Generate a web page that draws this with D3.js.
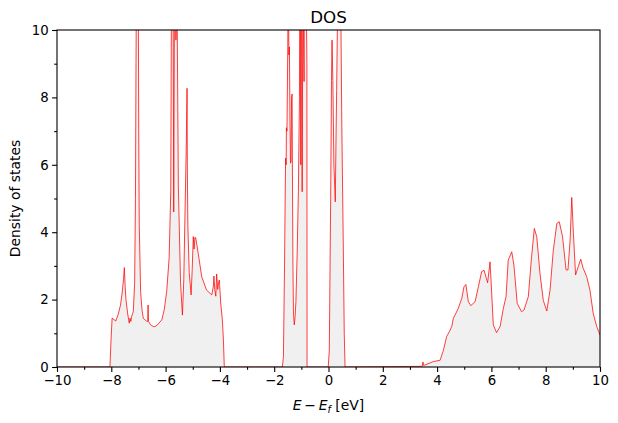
<!DOCTYPE html>
<html><head><meta charset="utf-8">
<script src="https://cdn.jsdelivr.net/npm/d3@7"></script>
<style>body{margin:0;background:#fff}text{font-family:"DejaVu Sans",sans-serif}</style>
</head><body><svg id="c" width="618" height="423"></svg>
<script>
const valenceE=[-10,-8.05,-8.01,-7.97,-7.93,-7.88,-7.84,-7.75,-7.66,-7.6,-7.55,-7.52,-7.49,-7.46,-7.40,-7.34,-7.31,-7.28,-7.25,-7.19,-7.14,-7.11,-7.09,-7.05,-7.01,-6.99,-6.97,-6.92,-6.87,-6.82,-6.70,-6.66,-6.645,-6.63,-6.55,-6.45,-6.39,-6.30,-6.14,-6.05,-5.96,-5.87,-5.81,-5.78,-5.74,-5.70,-5.67,-5.64,-5.62,-5.58,-5.53,-5.45,-5.38,-5.33,-5.29,-5.24,-5.21,-5.20,-5.18,-5.13,-5.06,-5.02,-4.98,-4.95,-4.92,-4.89,-4.80,-4.67,-4.49,-4.30,-4.24,-4.22,-4.19,-4.15,-4.12,-4.08,-4.05,-4.02,-3.97,-3.91,-3.87,-3.84,-3.83];
const valenceD=[0,0,0.8,1.45,1.42,1.4,1.36,1.55,1.84,2.2,2.6,2.95,2.4,2.0,1.6,1.3,1.45,1.35,1.5,1.64,2.5,5,9,15,12,7,4.2,2.24,1.7,1.44,1.36,1.35,1.84,1.35,1.25,1.2,1.2,1.25,1.4,1.7,2.24,3.23,5.2,12,15,4.6,12,11,9.7,11,5.35,2.5,1.54,2.6,4.36,6.5,8.27,6,4.2,2.8,2.14,2.9,3.87,3.5,3.85,3.83,3.38,2.68,2.28,2.14,2.4,2.7,2.3,2.1,2.76,2.3,2.5,2.58,1.9,1.4,0.8,0.05,0];
const semicoreE=[-1.70,-1.66,-1.62,-1.58,-1.56,-1.55,-1.53,-1.50,-1.48,-1.46,-1.44,-1.42,-1.40,-1.38,-1.36,-1.34,-1.33,-1.31,-1.29,-1.26,-1.23,-1.20,-1.15,-1.11,-1.07,-1.05,-1.03,-1.02,-1.01,-0.99,-0.97,-0.96,-0.94,-0.92,-0.90,-0.89,-0.88,-0.85,-0.82,-0.795,-0.79];
const semicoreD=[0,0.3,3,6.2,6.0,7.1,7.0,9.5,12,9.26,9.5,7.5,6.05,6.1,8.0,8.1,6,3,1.6,1.25,1.5,1.94,3.5,5.2,8,13,11,6.0,12,11,5.2,7.6,12,10,8.47,12,14,13,11,9,0];
const fermiE=[-0.01,0.03,0.08,0.11,0.13,0.16,0.20,0.25,0.28,0.30,0.34,0.40,0.45,0.49,0.55,0.58,0.61];
const fermiD=[0,0.5,5,8.5,9.7,8.5,6,4.9,7,8.2,11,13,11,7.2,3.2,1.0,0];
const conductionE=[3.45,3.48,3.50,3.55,3.86,4.11,4.23,4.35,4.45,4.54,4.60,4.66,4.78,4.91,4.99,5.06,5.15,5.24,5.4,5.52,5.64,5.73,5.86,5.95,6.01,6.07,6.19,6.32,6.44,6.54,6.62,6.75,6.83,6.95,7.11,7.2,7.36,7.48,7.58,7.67,7.79,7.91,8.04,8.16,8.28,8.41,8.50,8.62,8.75,8.82,8.90,8.96,9.02,9.1,9.2,9.29,9.38,9.51,9.63,9.75,9.88,10];
const conductionD=[0.02,0.15,0.05,0.06,0.16,0.2,0.49,0.9,1.05,1.2,1.45,1.54,1.74,2.04,2.38,2.45,1.94,1.82,1.94,2.38,2.83,2.87,2.5,3.12,2.2,1.25,1.02,1.2,1.74,2.09,3.17,3.42,3.02,1.89,1.64,1.69,2.09,3.27,4.11,3.87,2.78,1.98,1.66,2.28,3.46,4.26,4.31,3.87,2.88,2.88,3.77,5.03,3.97,2.73,2.98,3.2,2.93,2.68,2.28,1.59,1.2,0.95];
const xTicks=[-10,-8,-6,-4,-2,0,2,4,6,8,10];
const yTicks=[0,2,4,6,8,10];
const titleText="DOS", yLabel="Density of states";

const energy=[].concat(valenceE,semicoreE,fermiE,conductionE);
const dos=[].concat(valenceD,semicoreD,fermiD,conductionD);
const data=d3.zip(energy,dos);

const L=57,R=600,T=30,B=367;
const svg=d3.select("#c");
const x=d3.scaleLinear().domain([-10,10]).range([L,R]);
const y=d3.scaleLinear().domain([0,10]).range([B,T]);

svg.append("defs").append("clipPath").attr("id","clip").append("rect").attr("x",L).attr("y",T).attr("width",R-L).attr("height",B-T);
const g=svg.append("g").attr("clip-path","url(#clip)");
g.append("path").datum(data).attr("fill","#f0f0f0")
 .attr("d",d3.area().x(d=>x(d[0])).y0(y(0)).y1(d=>y(d[1])));
g.append("path").datum(data).attr("fill","none").attr("stroke","#ff0000").attr("stroke-width",0.75)
 .attr("d",d3.line().x(d=>x(d[0])).y(d=>y(d[1])));

const fmt=d=>d<0?"\u2212"+Math.abs(d):""+d;
svg.append("g").attr("transform",`translate(0,${B})`)
 .call(d3.axisBottom(x).tickValues(xTicks).tickFormat(fmt).tickSize(4.9).tickPadding(3.5));
svg.append("g").attr("transform",`translate(0,${B})`)
 .call(d3.axisBottom(x).tickValues(d3.range(-9,10,2)).tickFormat("").tickSize(2.8)).select(".domain").remove();
svg.append("g").attr("transform",`translate(${L},0)`)
 .call(d3.axisLeft(y).tickValues(yTicks).tickFormat(fmt).tickSize(4.9).tickPadding(3.5));
svg.append("g").attr("transform",`translate(${L},0)`)
 .call(d3.axisLeft(y).tickValues([1,3,5,7,9]).tickFormat("").tickSize(2.8)).select(".domain").remove();
svg.selectAll(".tick text").attr("font-size","13.3px").attr("font-family","DejaVu Sans").attr("fill","#000");
svg.selectAll(".tick line").attr("stroke","#000").attr("stroke-width",1.1);
svg.selectAll(".domain").attr("stroke","none");
svg.append("rect").attr("x",L).attr("y",T).attr("width",R-L).attr("height",B-T)
 .attr("fill","none").attr("stroke","#000").attr("stroke-width",1.1);

svg.append("text").attr("x",(L+R)/2).attr("y",T-7).attr("text-anchor","middle").attr("font-size","16.7px").text(titleText);
svg.append("text").attr("transform",`translate(20,${(T+B)/2}) rotate(-90)`).attr("text-anchor","middle").attr("font-size","13.9px").text(yLabel);
const xl=svg.append("text").attr("x",(L+R)/2).attr("y",410).attr("text-anchor","middle").attr("font-size","13.9px");
xl.append("tspan").attr("font-style","italic").text("E");
xl.append("tspan").text("\u2009\u2212\u2009");
xl.append("tspan").attr("font-style","italic").text("E");
xl.append("tspan").attr("font-style","italic").attr("font-size","9.7px").attr("dy",2.5).text("f");
xl.append("tspan").attr("dy",-2.5).text(" [eV]");
</script></body></html>
